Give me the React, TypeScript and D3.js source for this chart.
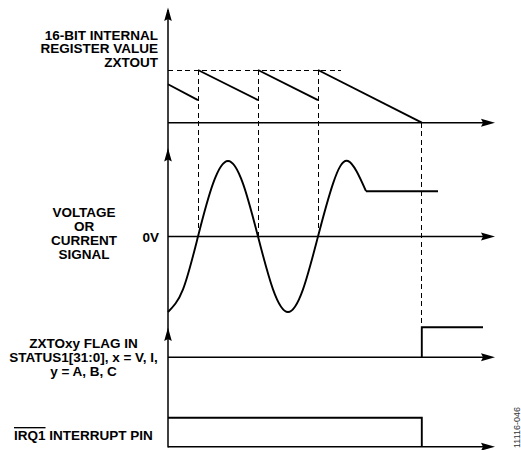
import { useRef, useEffect } from 'react';
import * as d3 from 'd3';

// time axis in half-periods of the input signal
const T_END = 5.45;
const ZERO_CROSS_T = [0.5, 1.5, 2.5];
const TIMEOUT_T = 4.23;
const ZXTOUT_LINE_END_T = 2.88;

// 16-bit internal register (normalised to ZXTOUT = 1), one entry per down-count ramp
const REG_START_T = [0, 0.5, 1.5, 2.5];
const REG_START_V = [0.73, 1, 1, 1];
const REG_END_T = [0.5, 1.5, 2.5, TIMEOUT_T];
const REG_END_V = [0.43, 0.43, 0.43, 0];

// voltage / current signal (normalised amplitude)
const SIG_T = [0, 0.25, 0.5, 0.75, 1, 1.25, 1.5, 1.75, 2, 2.25, 2.5, 2.75, 3, 3.3];
const SIG_V = [-1, -0.7, 0, 0.7, 1, 0.7, 0, -0.7, -1, -0.7, 0, 0.7, 1, 0.6];
const SIG_FLAT_T = [3.3, 4.5];
const SIG_FLAT_V = [0.6, 0.6];

// ZXTOxy flag and IRQ1 pin
const FLAG_T = [TIMEOUT_T, TIMEOUT_T, 5.25];
const FLAG_V = [0, 1, 1];
const IRQ_T = [0, TIMEOUT_T, TIMEOUT_T];
const IRQ_V = [1, 1, 0];

const REG_LABEL = ['16-BIT INTERNAL', 'REGISTER VALUE', 'ZXTOUT'];
const SIG_LABEL = ['VOLTAGE', 'OR', 'CURRENT', 'SIGNAL'];
const FLAG_LABEL = ['ZXTOxy FLAG IN', 'STATUS1[31:0], x = V, I,', 'y = A, B, C'];
const FIG_ID = '11116-046';

const W = 521;
const H = 450;
const X0 = 168;
const X1 = 495;
const FONT = '"Liberation Sans", Arial, Helvetica, sans-serif';

export default function App() {
  const svgRef = useRef<SVGSVGElement>(null);

  useEffect(() => {
    const svg = svgRef.current;
    if (!svg) return;
    const root = d3.select(svg);
    root.selectAll('*').remove();

    const x = d3.scaleLinear().domain([0, T_END]).range([X0, X1]);
    const yReg = d3.scaleLinear().domain([0, 1]).range([122.7, 70]);
    const ySig = d3.scaleLinear().domain([-1, 1]).range([312, 161]);
    const yFlag = d3.scaleLinear().domain([0, 1]).range([357.3, 327.3]);
    const yIrq = d3.scaleLinear().domain([0, 1]).range([446.7, 417.7]);

    const g = root.append('g');

    // dashed guides
    const dash = g.append('g')
      .attr('stroke', '#000')
      .attr('stroke-width', 1)
      .attr('stroke-dasharray', '5,3.5')
      .attr('shape-rendering', 'crispEdges')
      .attr('fill', 'none');
    dash.append('line')
      .attr('x1', x(0)).attr('x2', x(ZXTOUT_LINE_END_T))
      .attr('y1', yReg(1)).attr('y2', yReg(1));
    ZERO_CROSS_T.forEach((t) => {
      dash.append('line')
        .attr('x1', x(t)).attr('x2', x(t))
        .attr('y1', yReg(1)).attr('y2', ySig(0));
    });
    dash.append('line')
      .attr('x1', x(TIMEOUT_T)).attr('x2', x(TIMEOUT_T))
      .attr('y1', yReg(0)).attr('y2', yFlag(1));

    // axes
    const axis = g.append('g').attr('stroke', '#000').attr('stroke-width', 1.5);
    axis.append('line').attr('x1', X0).attr('x2', X0).attr('y1', 10).attr('y2', 447.5);
    const baselines = [yReg(0), ySig(0), yFlag(0), yIrq(0)];
    baselines.forEach((y) => {
      axis.append('line').attr('x1', X0).attr('x2', X1 - 8).attr('y1', y).attr('y2', y);
    });

    // arrowheads
    const arrows = g.append('g').attr('fill', '#000');
    baselines.forEach((y) => {
      arrows.append('path').attr('d', `M${X1},${y} L${X1 - 14},${y - 4} L${X1 - 12},${y} L${X1 - 14},${y + 4} Z`);
    });
    [7.5, 148, 327.5].forEach((y) => {
      arrows.append('path').attr('d', `M${X0},${y} L${X0 - 3.8},${y + 13.5} L${X0},${y + 11.5} L${X0 + 3.8},${y + 13.5} Z`);
    });

    // waveforms
    const wave = g.append('g')
      .attr('fill', 'none')
      .attr('stroke', '#000')
      .attr('stroke-width', 1.9)
      .attr('stroke-linejoin', 'miter');

    REG_START_T.forEach((t0, i) => {
      wave.append('line')
        .attr('x1', x(t0)).attr('y1', yReg(REG_START_V[i]))
        .attr('x2', x(REG_END_T[i])).attr('y2', yReg(REG_END_V[i]));
    });

    const sigLine = d3.line<number>()
      .x((i) => x(SIG_T[i]))
      .y((i) => ySig(SIG_V[i]))
      .curve(d3.curveNatural);
    wave.append('path').attr('d', sigLine(d3.range(SIG_T.length)));

    const flatLine = d3.line<number>().x((i) => x(SIG_FLAT_T[i])).y((i) => ySig(SIG_FLAT_V[i]));
    wave.append('path').attr('d', flatLine(d3.range(SIG_FLAT_T.length)));

    const flagLine = d3.line<number>().x((i) => x(FLAG_T[i])).y((i) => yFlag(FLAG_V[i]));
    wave.append('path').attr('d', flagLine(d3.range(FLAG_T.length)));

    const irqLine = d3.line<number>().x((i) => x(IRQ_T[i])).y((i) => yIrq(IRQ_V[i]));
    wave.append('path').attr('d', irqLine(d3.range(IRQ_T.length)));

    // labels
    const txt = g.append('g')
      .attr('font-family', FONT)
      .attr('font-size', '13.5px')
      .attr('font-weight', 'bold')
      .attr('fill', '#000');

    REG_LABEL.forEach((s, i) => {
      txt.append('text').attr('x', 158).attr('y', 39.5 + i * 13.5)
        .attr('text-anchor', 'end').text(s);
    });
    SIG_LABEL.forEach((s, i) => {
      txt.append('text').attr('x', 84).attr('y', 216.7 + i * 14.1)
        .attr('text-anchor', 'middle').text(s);
    });
    txt.append('text').attr('x', 159).attr('y', 241.7).attr('text-anchor', 'end').text('0V');
    FLAG_LABEL.forEach((s, i) => {
      txt.append('text').attr('x', 83.5).attr('y', 348.3 + i * 13.7)
        .attr('text-anchor', 'middle').text(s);
    });
    const irq = txt.append('text').attr('x', 14).attr('y', 440);
    irq.append('tspan').attr('text-decoration', 'overline').text('IRQ1');
    irq.append('tspan').text(' INTERRUPT PIN');

    g.append('text')
      .attr('transform', `translate(519.5,448) rotate(-90)`)
      .attr('font-family', FONT)
      .attr('font-size', '9px')
      .attr('fill', '#333')
      .text(FIG_ID);
  }, []);

  return (
    <svg
      ref={svgRef}
      width={W}
      height={H}
      viewBox={`0 0 ${W} ${H}`}
      style={{ position: 'absolute', left: 0, top: 0, background: '#fff' }}
    />
  );
}
